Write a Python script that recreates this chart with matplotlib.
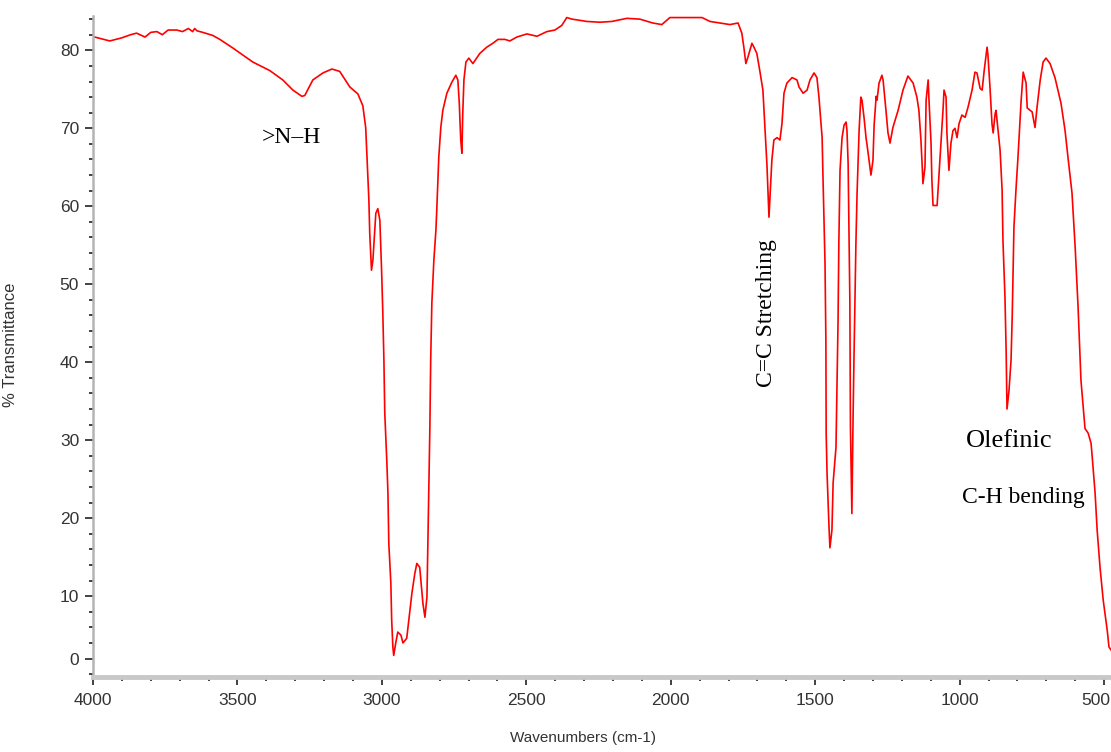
import matplotlib
matplotlib.use("Agg")
import matplotlib.pyplot as plt
import matplotlib.transforms as mtransforms
from matplotlib.ticker import FixedLocator, MultipleLocator

# IR spectrum (wavenumber cm-1, % transmittance)
wavenumber = [3994, 3942, 3900, 3870, 3849, 3820, 3800, 3779, 3760, 3740, 3710, 3690,
              3670, 3655, 3648, 3640, 3620, 3585, 3561, 3516, 3447, 3388, 3343, 3308,
              3277, 3267, 3239, 3204, 3173, 3146, 3111, 3083, 3066, 3056, 3052, 3045,
              3042, 3036, 3031, 3021, 3014, 3007, 3001, 2997, 2993, 2990, 2983, 2979,
              2976, 2969, 2966, 2962, 2959, 2952, 2945, 2934, 2927, 2914, 2907, 2896,
              2886, 2879, 2869, 2858, 2851, 2844, 2841, 2838, 2834, 2831, 2827, 2820,
              2813, 2810, 2803, 2796, 2789, 2775, 2758, 2744, 2737, 2732, 2727, 2723,
              2720, 2716, 2709, 2699, 2685, 2661, 2637, 2616, 2598, 2574, 2557, 2533,
              2498, 2463, 2429, 2401, 2377, 2360, 2342, 2290, 2245, 2204, 2152, 2107,
              2062, 2031, 2003, 1968, 1892, 1864, 1830, 1795, 1767, 1754, 1747, 1740,
              1733, 1719, 1712, 1702, 1691, 1681, 1674, 1667, 1660, 1657, 1650, 1643,
              1632, 1622, 1615, 1608, 1598, 1580, 1563, 1556, 1542, 1528, 1518, 1504,
              1494, 1487, 1476, 1473, 1466, 1463, 1462, 1459, 1452, 1449, 1442, 1438,
              1428, 1425, 1421, 1418, 1414, 1407, 1400, 1393, 1390, 1386, 1383, 1380,
              1378, 1373, 1369, 1366, 1359, 1355, 1348, 1342, 1338, 1331, 1324, 1317,
              1307, 1300, 1296, 1289, 1286, 1279, 1269, 1265, 1255, 1248, 1241, 1231,
              1213, 1196, 1179, 1161, 1148, 1141, 1134, 1130, 1127, 1120, 1116, 1109,
              1106, 1099, 1096, 1092, 1078, 1071, 1064, 1057, 1054, 1047, 1044, 1037,
              1030, 1023, 1016, 1009, 1002, 992, 981, 971, 957, 947, 940, 929,
              922, 915, 905, 902, 895, 888, 884, 877, 874, 867, 860, 853,
              850, 843, 839, 836, 829, 822, 818, 812, 805, 798, 787, 780,
              770, 766, 749, 739, 732, 721, 711, 701, 687, 670, 649, 635,
              625, 611, 600, 590, 580, 566, 555, 545, 542, 531, 524, 514,
              503, 489, 483, 476]
transmittance = [81.7, 81.2, 81.6, 82.0, 82.2, 81.7, 82.3, 82.4, 82.0, 82.6, 82.6, 82.4,
                 82.8, 82.4, 82.8, 82.5, 82.3, 81.9, 81.4, 80.3, 78.5, 77.4, 76.2, 74.9,
                 74.1, 74.2, 76.2, 77.1, 77.6, 77.3, 75.3, 74.4, 72.9, 70.1, 66.8, 60.8,
                 56.5, 51.8, 53.1, 59.1, 59.7, 58.2, 51.8, 46.7, 40.3, 33.5, 27.4, 23.2,
                 16.8, 11.7, 6.9, 3.5, 2.4, 4.0, 5.4, 5.0, 4.0, 4.6, 6.9, 10.4,
                 12.9, 14.2, 13.7, 9.1, 7.3, 9.9, 16.3, 22.7, 31.3, 40.3, 47.6, 53.1,
                 56.9, 59.5, 66.3, 70.1, 72.3, 74.5, 75.9, 76.8, 76.2, 73.2, 68.5, 66.8,
                 71.9, 76.2, 78.5, 79.0, 78.3, 79.6, 80.4, 80.9, 81.4, 81.4, 81.2, 81.7,
                 82.1, 81.8, 82.4, 82.6, 83.2, 84.2, 84.0, 83.7, 83.6, 83.7, 84.1, 84.0,
                 83.5, 83.3, 84.2, 84.2, 84.2, 83.7, 83.5, 83.3, 83.5, 82.2, 80.4, 78.3,
                 79.1, 80.9, 80.4, 79.6, 77.2, 74.9, 70.1, 65.3, 58.6, 60.8, 65.9, 68.5,
                 68.8, 68.5, 70.6, 74.5, 75.8, 76.5, 76.2, 75.3, 74.5, 74.9, 76.2, 77.1,
                 76.5, 74.0, 68.8, 63.7, 52.7, 42.8, 30.9, 25.8, 18.7, 16.2, 18.5, 24.5,
                 29.1, 36.0, 45.0, 55.6, 64.6, 68.8, 70.4, 70.8, 69.7, 65.5, 56.9, 47.9,
                 31.7, 20.6, 32.6, 39.9, 55.3, 61.7, 69.7, 74.0, 73.6, 71.4, 68.8, 66.9,
                 64.0, 65.9, 70.4, 74.1, 73.6, 75.8, 76.8, 76.2, 72.3, 69.4, 68.1, 70.1,
                 72.3, 74.9, 76.7, 75.8, 74.0, 72.3, 68.5, 65.5, 62.9, 65.0, 73.6, 76.2,
                 73.6, 68.1, 63.3, 60.1, 60.1, 64.2, 68.5, 72.7, 74.9, 74.0, 69.4, 64.6,
                 68.1, 69.7, 70.0, 68.8, 70.6, 71.7, 71.4, 72.7, 74.9, 77.2, 77.1, 75.1,
                 74.9, 77.4, 80.4, 79.4, 75.3, 70.6, 69.4, 71.9, 72.3, 69.7, 67.2, 62.1,
                 55.6, 48.3, 41.5, 34.0, 36.4, 40.3, 45.8, 57.3, 62.1, 66.3, 73.6, 77.2,
                 75.8, 72.6, 72.1, 70.1, 72.7, 76.2, 78.5, 79.0, 78.3, 76.5, 73.2, 69.7,
                 66.3, 61.7, 54.7, 47.1, 37.7, 31.5, 30.9, 29.6, 28.3, 23.2, 18.5, 13.7,
                 9.5, 5.6, 3.5, 3.1]

# y tick labels: the "0" label of the original sits one minor step above the axis floor
ytick_pos = [2, 10, 20, 30, 40, 50, 60, 70, 80]
ytick_lab = ["0", "10", "20", "30", "40", "50", "60", "70", "80"]
xtick_pos = [4000, 3500, 3000, 2500, 2000, 1500, 1000, 500]

# band labels: (text, wavenumber, %T, rotation, fontsize)
bands = [(">N\u2013H", 3312, 68.8, 0, 17),
         ("C=C Stretching", 1667, 46.3, 90, 17),
         ("Olefinic", 829, 29.9, 0, 19),
         ("C-H bending", 780, 22.7, 0, 17)]

tick_font = 'Liberation Sans'

fig = plt.figure(figsize=(11.11, 7.52), dpi=100)
ax = fig.add_axes([93 / 1111, 75.5 / 752, 1018 / 1111, 660.5 / 752])

ax.plot(wavenumber, transmittance, color='#ff0000', lw=1.2)

ax.set_xlim(4000, 476)
ax.set_ylim(-0.3, 84.4)

ax.xaxis.set_major_locator(FixedLocator(xtick_pos))
ax.xaxis.set_minor_locator(MultipleLocator(100))
ax.yaxis.set_major_locator(FixedLocator(ytick_pos))
ax.set_yticklabels(ytick_lab)
ax.yaxis.set_minor_locator(MultipleLocator(2))

for s in ['top', 'right']:
    ax.spines[s].set_visible(False)
ax.spines['left'].set_color('#b4b4b4')
ax.spines['left'].set_linewidth(1.8)
ax.spines['bottom'].set_color('#c8c8c8')
ax.spines['bottom'].set_linewidth(3.5)

ax.tick_params(axis='both', which='major', length=6, width=1.2, color='#222222',
               labelcolor='#333333', labelsize=12.5)
ax.tick_params(axis='both', which='minor', length=3, width=1.2, color='#222222')
ax.tick_params(axis='x', pad=6)
ax.tick_params(axis='y', pad=4)
for lab in ax.get_xticklabels() + ax.get_yticklabels():
    lab.set_family(tick_font)

# the last x label sits against the right edge, shift it left so it stays inside
last = ax.xaxis.get_major_ticks()[-1].label1
last.set_horizontalalignment('right')
last.set_transform(last.get_transform() +
                   mtransforms.ScaledTranslation(6 / 100, 0, fig.dpi_scale_trans))

ax.set_xlabel('Wavenumbers (cm-1)', family=tick_font, fontsize=11, color='#333333')
ax.xaxis.set_label_coords(0.481, -0.083)
ax.set_ylabel('% Transmittance', family=tick_font, fontsize=12, color='#333333')
ax.yaxis.set_label_coords(-0.074, 0.502)

for txt, x, y, rot, fs in bands:
    ax.text(x, y, txt, rotation=rot, fontsize=fs, family='Liberation Serif',
            ha='center', va='center', color='black')

fig.savefig('out.png', dpi=100)
